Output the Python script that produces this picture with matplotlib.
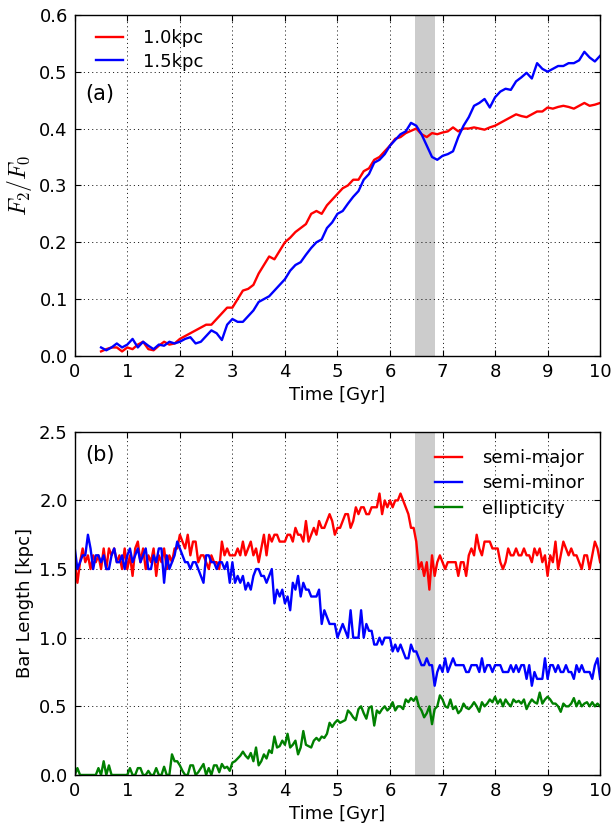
import numpy as np
import matplotlib
matplotlib.use("Agg")
import matplotlib.pyplot as plt

# ---------------- data ----------------
# panel (a): F2/F0, t = 0.5 .. 10.0 step 0.1
t_a = np.round(np.arange(0.5, 10.0001, 0.1), 2)
f_10kpc = [0.008, 0.012, 0.015, 0.015, 0.008, 0.015, 0.012, 0.02, 0.025, 0.012,
           0.01, 0.018, 0.025, 0.02, 0.022, 0.03, 0.035, 0.04, 0.045, 0.05,
           0.055, 0.055, 0.065, 0.075, 0.085, 0.085, 0.1, 0.115, 0.118, 0.125,
           0.145, 0.16, 0.175, 0.17, 0.185, 0.2, 0.208, 0.218, 0.225, 0.232,
           0.25, 0.255, 0.25, 0.265, 0.275, 0.285, 0.295, 0.3, 0.31, 0.31,
           0.325, 0.33, 0.345, 0.35, 0.36, 0.37, 0.382, 0.385, 0.392, 0.396,
           0.4, 0.39, 0.385, 0.392, 0.39, 0.393, 0.395, 0.402, 0.395, 0.4,
           0.4, 0.402, 0.4, 0.398, 0.402, 0.405, 0.41, 0.415, 0.42, 0.425,
           0.422, 0.42, 0.425, 0.43, 0.43, 0.437, 0.435, 0.438, 0.44, 0.438,
           0.435, 0.44, 0.445, 0.44, 0.442, 0.445]
f_15kpc = [0.015, 0.01, 0.015, 0.022, 0.015, 0.02, 0.03, 0.015, 0.025, 0.018,
           0.012, 0.02, 0.018, 0.025, 0.022, 0.025, 0.03, 0.033, 0.022, 0.025,
           0.035, 0.045, 0.04, 0.028, 0.055, 0.065, 0.06, 0.06, 0.07, 0.08,
           0.095, 0.1, 0.105, 0.115, 0.125, 0.135, 0.15, 0.16, 0.165, 0.178,
           0.19, 0.2, 0.205, 0.225, 0.235, 0.25, 0.255, 0.268, 0.28, 0.29,
           0.31, 0.32, 0.34, 0.345, 0.355, 0.37, 0.38, 0.39, 0.395, 0.41,
           0.405, 0.39, 0.37, 0.35, 0.345, 0.352, 0.355, 0.36, 0.385, 0.405,
           0.42, 0.44, 0.445, 0.452, 0.437, 0.455, 0.465, 0.47, 0.468, 0.483,
           0.49, 0.498, 0.488, 0.515, 0.505, 0.5, 0.505, 0.51, 0.51, 0.515,
           0.515, 0.52, 0.535, 0.525, 0.518, 0.528]

# panel (b): bar length, t = 0 .. 10 step 0.05
t_b = np.round(np.arange(0.0, 10.0001, 0.05), 2)
semi_major = [
    1.55, 1.4, 1.55, 1.65, 1.55, 1.6, 1.5, 1.6, 1.55, 1.6, 1.5, 1.65, 1.5, 1.65, 1.6, 1.65, 1.55, 1.6, 1.5, 1.65,
    1.5, 1.6, 1.45, 1.65, 1.7, 1.55, 1.65, 1.5, 1.6, 1.55, 1.65, 1.45, 1.6, 1.55, 1.65, 1.5, 1.6, 1.55, 1.65, 1.65,
    1.75, 1.7, 1.65, 1.75, 1.6, 1.7, 1.7, 1.55, 1.6, 1.6, 1.55, 1.5, 1.6, 1.55, 1.55, 1.5, 1.7, 1.6, 1.65, 1.6,
    1.6, 1.6, 1.65, 1.6, 1.7, 1.6, 1.65, 1.7, 1.6, 1.65, 1.55, 1.65, 1.75, 1.6, 1.75, 1.7, 1.75, 1.75, 1.7, 1.7,
    1.7, 1.75, 1.75, 1.7, 1.8, 1.75, 1.75, 1.7, 1.85, 1.7, 1.75, 1.8, 1.75, 1.85, 1.8, 1.8, 1.85, 1.9, 1.85, 1.75,
    1.8, 1.8, 1.85, 1.9, 1.9, 1.8, 1.85, 1.95, 1.9, 1.95, 1.95, 1.9, 1.9, 1.95, 1.95, 1.95, 2.05, 1.9, 2.0, 1.95,
    2.0, 1.95, 2.0, 2.0, 2.05, 2.0, 1.95, 1.9, 1.8, 1.8, 1.7, 1.5, 1.55, 1.45, 1.55, 1.35, 1.6, 1.45, 1.55, 1.6,
    1.55, 1.5, 1.55, 1.55, 1.55, 1.55, 1.45, 1.55, 1.55, 1.45, 1.6, 1.65, 1.6, 1.75, 1.65, 1.6, 1.7, 1.7, 1.7, 1.65,
    1.65, 1.65, 1.55, 1.5, 1.55, 1.65, 1.6, 1.6, 1.65, 1.6, 1.6, 1.65, 1.6, 1.6, 1.55, 1.65, 1.6, 1.65, 1.55, 1.6,
    1.45, 1.6, 1.55, 1.7, 1.5, 1.6, 1.7, 1.65, 1.6, 1.65, 1.6, 1.6, 1.55, 1.5, 1.6, 1.6, 1.5, 1.6, 1.7, 1.65,
    1.55]
semi_minor = [
    1.65, 1.5, 1.55, 1.6, 1.6, 1.75, 1.65, 1.5, 1.6, 1.6, 1.55, 1.6, 1.5, 1.5, 1.6, 1.65, 1.55, 1.55, 1.6, 1.5,
    1.6, 1.65, 1.55, 1.6, 1.65, 1.55, 1.6, 1.65, 1.5, 1.5, 1.6, 1.55, 1.65, 1.65, 1.4, 1.6, 1.5, 1.55, 1.6, 1.7,
    1.65, 1.6, 1.55, 1.55, 1.5, 1.55, 1.55, 1.5, 1.45, 1.4, 1.6, 1.6, 1.55, 1.55, 1.5, 1.55, 1.55, 1.5, 1.55, 1.4,
    1.55, 1.4, 1.45, 1.4, 1.45, 1.35, 1.4, 1.35, 1.45, 1.5, 1.5, 1.45, 1.45, 1.4, 1.45, 1.5, 1.25, 1.35, 1.3, 1.35,
    1.25, 1.3, 1.2, 1.4, 1.35, 1.45, 1.3, 1.4, 1.35, 1.35, 1.3, 1.3, 1.3, 1.35, 1.1, 1.2, 1.15, 1.1, 1.1, 1.1,
    1.0, 1.05, 1.1, 1.05, 1.0, 1.2, 1.0, 1.0, 1.0, 1.2, 1.0, 1.1, 1.05, 1.05, 0.95, 0.95, 1.0, 0.95, 1.0, 1.0,
    1.0, 0.9, 0.95, 0.9, 0.95, 0.9, 0.85, 0.85, 0.95, 0.9, 0.9, 0.85, 0.8, 0.8, 0.85, 0.8, 0.8, 0.65, 0.75, 0.8,
    0.75, 0.85, 0.75, 0.8, 0.85, 0.8, 0.8, 0.8, 0.8, 0.75, 0.75, 0.8, 0.8, 0.8, 0.75, 0.85, 0.75, 0.8, 0.8, 0.75,
    0.8, 0.8, 0.8, 0.75, 0.75, 0.75, 0.8, 0.75, 0.8, 0.75, 0.8, 0.8, 0.7, 0.8, 0.65, 0.75, 0.7, 0.7, 0.7, 0.85,
    0.7, 0.8, 0.8, 0.75, 0.8, 0.75, 0.75, 0.8, 0.75, 0.75, 0.7, 0.8, 0.75, 0.8, 0.75, 0.75, 0.75, 0.7, 0.8, 0.85,
    0.7]
ellipticity = [
    0.0, 0.05, 0.0, 0.0, 0.0, 0.0, 0.0, 0.0, 0.0, 0.05, 0.0, 0.1, 0.0, 0.07, 0.0, 0.0, 0.0, 0.0, 0.0, 0.0,
    0.0, 0.05, 0.0, 0.0, 0.05, 0.05, 0.0, 0.0, 0.03, 0.0, 0.0, 0.05, 0.0, 0.0, 0.06, 0.0, 0.0, 0.15, 0.1, 0.1,
    0.07, 0.03, 0.0, 0.0, 0.07, 0.07, 0.0, 0.02, 0.05, 0.08, 0.0, 0.05, 0.0, 0.07, 0.07, 0.02, 0.08, 0.05, 0.06, 0.03,
    0.09, 0.1, 0.12, 0.14, 0.17, 0.14, 0.12, 0.16, 0.1, 0.2, 0.07, 0.1, 0.15, 0.12, 0.18, 0.16, 0.28, 0.2, 0.21, 0.25,
    0.22, 0.3, 0.2, 0.22, 0.25, 0.15, 0.2, 0.32, 0.22, 0.21, 0.2, 0.25, 0.27, 0.25, 0.28, 0.27, 0.3, 0.38, 0.35, 0.38,
    0.4, 0.38, 0.39, 0.4, 0.47, 0.45, 0.42, 0.4, 0.48, 0.5, 0.45, 0.41, 0.49, 0.5, 0.36, 0.47, 0.45, 0.48, 0.5, 0.47,
    0.49, 0.53, 0.47, 0.5, 0.5, 0.48, 0.55, 0.53, 0.56, 0.54, 0.57, 0.5, 0.47, 0.42, 0.45, 0.5, 0.37, 0.48, 0.5, 0.58,
    0.55, 0.5, 0.49, 0.55, 0.48, 0.5, 0.45, 0.47, 0.52, 0.49, 0.48, 0.5, 0.53, 0.5, 0.46, 0.53, 0.5, 0.52, 0.55, 0.53,
    0.57, 0.52, 0.55, 0.5, 0.55, 0.52, 0.5, 0.55, 0.53, 0.54, 0.52, 0.55, 0.48, 0.52, 0.55, 0.53, 0.52, 0.6, 0.52, 0.55,
    0.57, 0.55, 0.52, 0.52, 0.5, 0.46, 0.52, 0.5, 0.5, 0.52, 0.56, 0.5, 0.54, 0.5, 0.52, 0.53, 0.5, 0.53, 0.5, 0.52,
    0.5]

band = (6.47, 6.85)
xticks = list(range(0, 11))

# ---------------- style ----------------
plt.rcParams.update({
    "font.family": ["DejaVu Sans"],
    "font.size": 13,
    "mathtext.fontset": "cm",
    "xtick.direction": "in",
    "ytick.direction": "in",
    "xtick.top": True,
    "ytick.right": True,
    "xtick.major.size": 4,
    "ytick.major.size": 4,
    "axes.linewidth": 1.0,
    "lines.scale_dashes": False,
})

fig = plt.figure(figsize=(6.13, 8.24), dpi=100)
ax1 = fig.add_axes([0.122, 0.568, 0.857, 0.414])
ax2 = fig.add_axes([0.122, 0.0595, 0.857, 0.4165])

lw = 1.7
for ax in (ax1, ax2):
    ax.axvspan(band[0], band[1], color="#cccccc", lw=0, zorder=0)
    ax.grid(True, color="k", linestyle=(0, (0.8, 2.2)), linewidth=0.6)
    ax.set_axisbelow(True)
    ax.set_xlim(0, 10)
    ax.set_xticks(xticks)
    ax.set_xlabel("Time [Gyr]", fontsize=13)
    ax.tick_params(labelsize=13, pad=5)

ax1.plot(t_a, f_10kpc, color="red", lw=lw, label="1.0kpc")
ax1.plot(t_a, f_15kpc, color="blue", lw=lw, label="1.5kpc")
ax1.set_ylim(0, 0.6)
ax1.set_yticks(np.arange(0, 0.61, 0.1))
ax1.set_yticklabels([f"{v:.1f}" for v in np.arange(0, 0.61, 0.1)])
ax1.set_ylabel(r"$F_2/F_0$", fontsize=17)
ax1.text(0.2, 0.46, "(a)", fontsize=15, va="center", ha="left")
ax1.legend(loc="upper left", frameon=False, fontsize=13, handlelength=1.5,
           handletextpad=1.1, labelspacing=0.3, bbox_to_anchor=(0.01, 1.005))

ax2.plot(t_b, semi_major, color="red", lw=lw, label="semi-major")
ax2.plot(t_b, semi_minor, color="blue", lw=lw, label="semi-minor")
ax2.plot(t_b, ellipticity, color="green", lw=lw, label="ellipticity")
ax2.set_ylim(0, 2.5)
ax2.set_yticks(np.arange(0, 2.51, 0.5))
ax2.set_yticklabels([f"{v:.1f}" for v in np.arange(0, 2.51, 0.5)])
ax2.set_ylabel("Bar Length [kpc]", fontsize=13)
ax2.text(0.2, 2.33, "(b)", fontsize=15, va="center", ha="left")
ax2.legend(loc="upper right", frameon=False, fontsize=13, handlelength=1.5,
           handletextpad=1.1, labelspacing=0.4, bbox_to_anchor=(1.0, 0.997))

fig.savefig("out.png", dpi=100, facecolor="white")
